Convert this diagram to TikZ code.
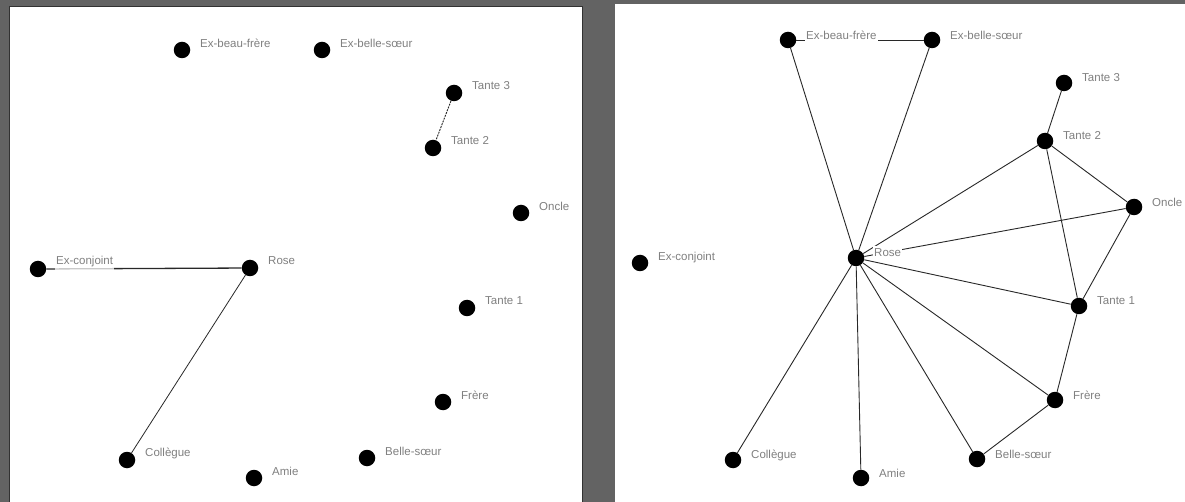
\documentclass[tikz,border=0pt]{standalone}
\usepackage{fontspec}
\setmainfont{Liberation Sans}
\definecolor{bgc}{RGB}{99,99,99}
\definecolor{framec}{RGB}{50,50,50}
\definecolor{labc}{RGB}{128,128,128}
\definecolor{edgec}{RGB}{40,40,40}
\begin{document}
\begin{tikzpicture}[x=1pt,y=-1pt,
  dot/.style={circle,fill=black,inner sep=0pt,minimum size=16.5pt},
  lbl/.style={anchor=west,fill=white,inner xsep=1pt,inner ysep=2.5pt,text=labc,font=\fontsize{11.5}{12}\selectfont},
  edge/.style={draw=edgec,line width=0.9pt},
  panel/.style={fill=white}]
\useasboundingbox (0,0) rectangle (1185,502);
\fill[bgc] (0,0) rectangle (1185,502);
% panels
\node[panel,draw=framec,line width=1pt,inner sep=0pt,minimum width=573pt,minimum height=500pt,anchor=north west] (Lpanel) at (8.5,6) {};
\node[panel,inner sep=0pt,minimum width=572pt,minimum height=500pt,anchor=north west] (Rpanel) at (615,4) {};

% ---------- left panel nodes ----------
\node[dot] (LExBF) at (182,50) {};
\node[dot] (LExBS) at (322,50) {};
\node[dot] (LT3) at (454,93) {};
\node[dot] (LT2) at (433,148) {};
\node[dot] (LOncle) at (521,213) {};
\node[dot] (LExC) at (38,269) {};
\node[dot] (LRose) at (250,268) {};
\node[dot] (LT1) at (467,308) {};
\node[dot] (LFrere) at (443,402) {};
\node[dot] (LColl) at (127,460) {};
\node[dot] (LAmie) at (254,478) {};
\node[dot] (LBS) at (367,458) {};

% left edges
\draw[edge,dash pattern=on 2pt off 1pt] (LT3) -- (LT2);
\draw[edge,line width=1.3pt] (LExC) -- (LRose);
\draw[edge,line width=0.8pt] (LRose) -- (LColl);

% left labels
\node[lbl] (LExBFl) at ([shift={(17,-7)}]LExBF.center) {Ex-beau-frère};
\node[lbl] (LExBSl) at ([shift={(17,-7)}]LExBS.center) {Ex-belle-sœur};
\node[lbl] (LT3l) at ([shift={(17,-7)}]LT3.center) {Tante 3};
\node[lbl] (LT2l) at ([shift={(17,-7)}]LT2.center) {Tante 2};
\node[lbl] (LOnclel) at ([shift={(17,-7)}]LOncle.center) {Oncle};
\node[lbl,fill opacity=0.75,text opacity=1] (LExCl) at ([shift={(17,-7)}]LExC.center) {Ex-conjoint};
\node[lbl] (LRosel) at ([shift={(17,-7)}]LRose.center) {Rose};
\node[lbl] (LT1l) at ([shift={(17,-7)}]LT1.center) {Tante 1};
\node[lbl] (LFrerel) at ([shift={(17,-7)}]LFrere.center) {Frère};
\node[lbl] (LColll) at ([shift={(17,-7)}]LColl.center) {Collègue};
\node[lbl] (LAmiel) at ([shift={(17,-7)}]LAmie.center) {Amie};
\node[lbl] (LBSl) at ([shift={(17,-7)}]LBS.center) {Belle-sœur};

% ---------- right panel nodes ----------
\node[dot] (RExBF) at (788,40) {};
\node[dot] (RExBS) at (932,40) {};
\node[dot] (RT3) at (1064,83) {};
\node[dot] (RT2) at (1045,141) {};
\node[dot] (ROncle) at (1134,207) {};
\node[dot] (RExC) at (640,263) {};
\node[dot] (RRose) at (856,258) {};
\node[dot] (RT1) at (1079,306) {};
\node[dot] (RFrere) at (1055,400) {};
\node[dot] (RColl) at (733,460) {};
\node[dot] (RAmie) at (861,478) {};
\node[dot] (RBS) at (977,459) {};

% right edges
\draw[edge] (RExBF) -- (RExBS);
\draw[edge] (RExBF) -- (RRose);
\draw[edge] (RExBS) -- (RRose);
\draw[edge] (RT3) -- (RT2);
\draw[edge] (RT2) -- (RRose);
\draw[edge] (RT2) -- (ROncle);
\draw[edge] (RT2) -- (RT1);
\draw[edge] (ROncle) -- (RRose);
\draw[edge] (ROncle) -- (RT1);
\draw[edge] (RRose) -- (RT1);
\draw[edge] (RRose) -- (RFrere);
\draw[edge] (RRose) -- (RBS);
\draw[edge] (RRose) -- (RAmie);
\draw[edge] (RRose) -- (RColl);
\draw[edge] (RT1) -- (RFrere);
\draw[edge] (RFrere) -- (RBS);

% right labels
\node[lbl] (RExBFl) at ([shift={(17,-5)}]RExBF.center) {Ex-beau-frère};
\node[lbl] (RExBSl) at ([shift={(17,-5)}]RExBS.center) {Ex-belle-sœur};
\node[lbl] (RT3l) at ([shift={(17,-5)}]RT3.center) {Tante 3};
\node[lbl] (RT2l) at ([shift={(17,-5)}]RT2.center) {Tante 2};
\node[lbl] (ROnclel) at ([shift={(17,-5)}]ROncle.center) {Oncle};
\node[lbl] (RExCl) at ([shift={(17,-5)}]RExC.center) {Ex-conjoint};
\node[lbl] (RRosel) at ([shift={(17,-5)}]RRose.center) {Rose};
\node[lbl] (RT1l) at ([shift={(17,-5)}]RT1.center) {Tante 1};
\node[lbl] (RFrerel) at ([shift={(17,-5)}]RFrere.center) {Frère};
\node[lbl] (RColll) at ([shift={(17,-5)}]RColl.center) {Collègue};
\node[lbl] (RAmiel) at ([shift={(17,-5)}]RAmie.center) {Amie};
\node[lbl] (RBSl) at ([shift={(17,-5)}]RBS.center) {Belle-sœur};
\end{tikzpicture}
\end{document}
